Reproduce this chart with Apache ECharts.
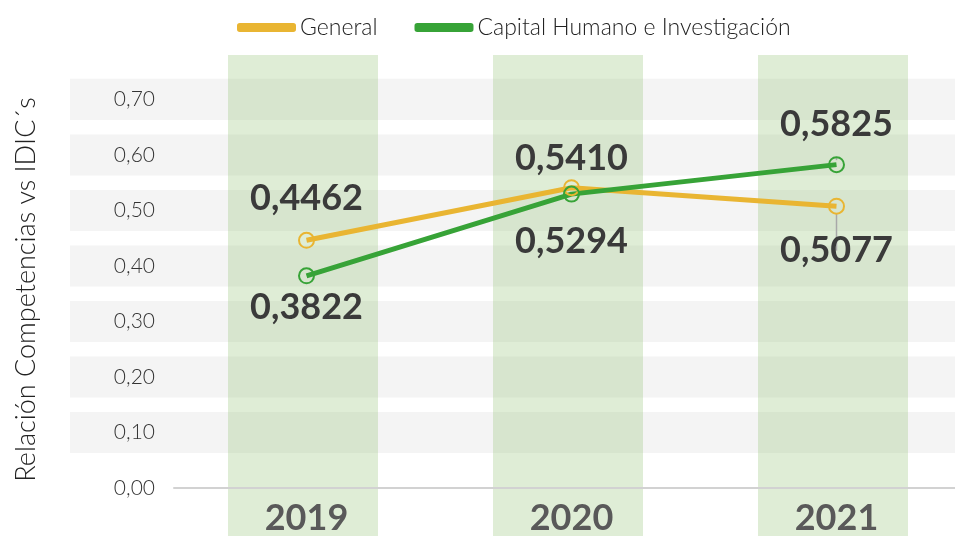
<!DOCTYPE html>
<html>
<head>
<meta charset="utf-8">
<script src="https://cdn.jsdelivr.net/npm/echarts@6/dist/echarts.min.js"></script>
<style>
html,body{margin:0;padding:0;background:#fff;}
#main{width:955px;height:536px;}
</style>
</head>
<body>
<div id="main"></div>
<script>
var years = ['2019', '2020', '2021'];
var general = [0.4462, 0.5410, 0.5077];
var capital = [0.3822, 0.5294, 0.5825];
var stripeTicks = [0.1, 0.2, 0.3, 0.4, 0.5, 0.6, 0.7];
// label placement per point: [position, distance]
var generalLabelPos = [['top', 15], ['top', 3], ['bottom', 18]];
var capitalLabelPos = [['bottom', 5], ['bottom', 21], ['top', 14]];

var FONT = 'Lato, "Noto Sans", sans-serif';
var YMAX = 0.78;
var YELLOW = '#E9B532';
var GREEN = '#37A337';

function comma(v, d) {
	return v.toFixed(d).replace('.', ',');
}

function pointData(values, pos) {
	return values.map(function (v, i) {
		var item = {
			value: v,
			label: {position: pos[i][0], distance: pos[i][1]}
		};
		if (i === 2) {
			item.labelLine = {show: true, lineStyle: {color: '#a8a8a8', width: 1.5}};
		}
		return item;
	});
}

var myChart = echarts.init(document.getElementById('main'));

var dataLabel = {
	show: true,
	fontFamily: FONT,
	fontSize: 36,
	fontWeight: 'bold',
	color: '#3a3a3a',
	formatter: function (p) { return comma(p.value, 4); }
};

var option = {
	animation: false,
	textStyle: {fontFamily: FONT},
	legend: {
		left: 232,
		top: 11,
		itemWidth: 57,
		itemHeight: 7,
		itemGap: 37,
		icon: 'roundRect',
		textStyle: {fontSize: 23, color: '#222', fontWeight: 300, fontFamily: FONT},
		data: [
			{name: 'General', itemStyle: {color: YELLOW}},
			{name: 'Capital Humano e Investigación', itemStyle: {color: GREEN}}
		]
	},
	grid: [
		{left: 174, width: 795, top: 55, bottom: 48, outerBoundsMode: 'none'},
		{left: 70, right: 0, top: 55, bottom: 48, outerBoundsMode: 'none'}
	],
	xAxis: [
		{
			type: 'category',
			gridIndex: 0,
			data: years,
			boundaryGap: true,
			axisTick: {show: false},
			axisLine: {lineStyle: {color: '#d2d2d2', width: 2}},
			axisLabel: {
				fontSize: 36,
				fontWeight: 'bold',
				color: '#595959',
				margin: 12,
				fontFamily: FONT
			},
			z: 5
		},
		{type: 'value', gridIndex: 1, min: 0, max: 1, show: false}
	],
	yAxis: [
		{
			type: 'value',
			gridIndex: 0,
			min: 0,
			max: YMAX,
			interval: 0.1,
			name: 'Relación Competencias vs IDIC´s',
			nameLocation: 'middle',
			nameGap: 134,
			nameTextStyle: {fontSize: 27, color: '#222', fontWeight: 300, fontFamily: FONT, padding: [0, 36, 0, 0]},
			axisLine: {show: false},
			axisTick: {show: false},
			splitLine: {show: false},
			axisLabel: {
				margin: 19,
				fontSize: 21,
				color: '#333',
				fontWeight: 300,
				fontFamily: FONT,
				showMaxLabel: false,
				formatter: function (v) { return comma(v, 2); }
			}
		},
		{type: 'value', gridIndex: 1, min: 0, max: YMAX, show: false}
	],
	series: [
		{
			// grey horizontal stripes behind each tick
			type: 'custom',
			xAxisIndex: 1,
			yAxisIndex: 1,
			silent: true,
			z: 0,
			data: stripeTicks,
			renderItem: function (params, api) {
				var v = api.value(0);
				var cs = params.coordSys;
				var top = api.coord([0, v + 0.037])[1];
				var bot = api.coord([0, v - 0.037])[1];
				return {
					type: 'rect',
					shape: {x: cs.x, y: top, width: cs.width, height: bot - top},
					style: {fill: '#f4f4f4'}
				};
			}
		},
		{
			// green vertical bands for each year
			type: 'custom',
			xAxisIndex: 0,
			yAxisIndex: 0,
			silent: true,
			z: 1,
			data: years.map(function (y, i) { return [i, YMAX]; }),
			renderItem: function (params, api) {
				var cs = params.coordSys;
				var c = api.coord([api.value(0), api.value(1)]);
				var w = api.size([1, 0])[0] * 0.566;
				return {
					type: 'rect',
					shape: {x: c[0] - w / 2 - 3.5, y: cs.y, width: w, height: api.getHeight() - cs.y},
					style: {fill: 'rgba(150,195,120,0.3)'}
				};
			}
		},
		{
			name: 'General',
			type: 'line',
			z: 3,
			data: pointData(general, generalLabelPos),
			symbol: 'circle',
			symbolSize: 15,
			lineStyle: {width: 5, color: YELLOW},
			itemStyle: {color: 'rgba(0,0,0,0)', borderColor: YELLOW, borderWidth: 2},
			label: dataLabel
		},
		{
			name: 'Capital Humano e Investigación',
			type: 'line',
			z: 3,
			data: pointData(capital, capitalLabelPos),
			symbol: 'circle',
			symbolSize: 15,
			lineStyle: {width: 5, color: GREEN},
			itemStyle: {color: 'rgba(0,0,0,0)', borderColor: GREEN, borderWidth: 2},
			label: dataLabel
		}
	]
};

myChart.setOption(option);
</script>
</body>
</html>
